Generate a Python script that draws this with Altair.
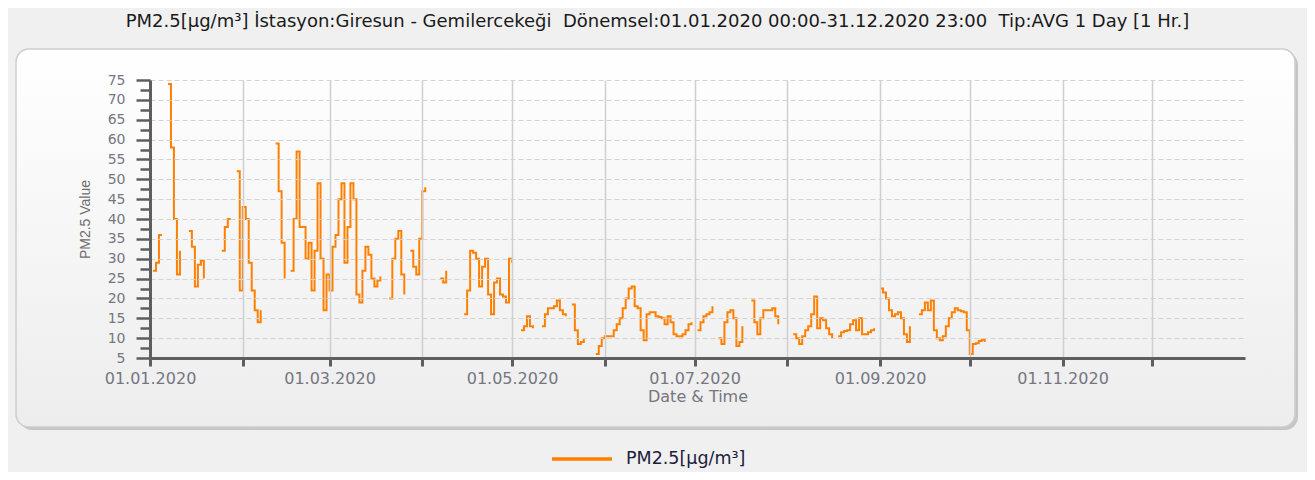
import altair as alt
import pandas as pd

N = None
# Daily PM2.5 averages (µg/m³), one list per month of 2020, None = no data
jan = [N, 27, 29, 36, 36, N, 74, 58, 40, 26, 32, N, N, 37, 33, 23, 28.5, 29.5, 25, N,
       N, N, N, N, 32, 38, 40, 40, N, 52, 22]
feb = [43, 40, 29, 22, 17, 14, 17, N, N, N, N, 59, 47, 34, 25, N, 27, 40, 57, 38,
       38, 30, 34, 22, 32, 49, 30, 17, 26]
mar = [22, 33, 36, 45, 49, 29, 38, 49, 45, 21, 19, 27, 33, 31, 25, 23, 24.5, 25.5, N, N,
       20, 30, 35, 37, 26, 21, N, 32, 28, 26, 35]
apr = [47, 48, N, N, N, N, 25, 24, 27, N, N, N, N, N, 16, 22, 32, 31.5, 30, 23,
       28, 30, 21, 16, 24, 25, 21, 20.5, 19, 30]
may = [29, N, N, 12, 13, 15.5, 13, 12.5, N, N, 13, 16, 17.5, 17.5, 18, 19.5, 17, 16, 15.5, N,
       18.5, 12, 8.5, 9, 10, N, N, N, 6, 8, 10]
jun = [10.5, 10.5, 10.5, 12, 13.5, 15, 17.5, 20, 22.5, 23, 18, 17.5, 12, 9.5, 16, 16.5, 16.5, 15.5, 15.3, 15,
       13.5, 15.5, 14, 11, 10.5, 10.5, 11, 12, 13.5, 14]
jul = [N, 12, 14, 15.5, 16, 16.5, 18, N, 10, 8.5, 14, 16.5, 17, 15, 8, 9, 13, N, N, 19.5,
       14, 11, 15, 17, 17, 17, 17.5, 15.5, 13.5, N, N]
aug = [N, N, 11, 10, 8.5, 10.5, 12, 13, 16, 20.5, 12.5, 15, 14.5, 12.5, 11, 10, N, 10.5, 11.5, 11.8,
       12, 13.5, 14.5, 12, 15, 11, 11, 11.5, 12, 12.5, N]
sep = [22.5, 21.5, 20, 17, 15.5, 16, 16.5, 15, 11, 9, 13, N, N, 16, 17, 19, 17, 19.5, 12, 10,
       9.5, 10.5, 13, 15, 16.5, 17.5, 17, 16.8, 16.5, 12]
oct_ = [6, 8.5, 8.7, 9.3, 9.6, 9]

y_ticks = [5, 10, 15, 20, 25, 30, 35, 40, 45, 50, 55, 60, 65, 70, 75]
y_minor = [7.5, 12.5, 17.5, 22.5, 27.5, 32.5, 37.5, 42.5, 47.5, 52.5, 57.5, 62.5, 67.5, 72.5]
month_starts = ["2020-01-01", "2020-02-01", "2020-03-01", "2020-04-01", "2020-05-01", "2020-06-01",
                "2020-07-01", "2020-08-01", "2020-09-01", "2020-10-01", "2020-11-01", "2020-12-01"]
x_domain = ["2020-01-01", "2021-01-01"]

series_name = "PM2.5[µg/m³]"
title_text = ("PM2.5[µg/m³] İstasyon:Giresun - Gemilercekeği \u00a0Dönemsel:01.01.2020 00:00-31.12.2020 23:00 "
              "\u00a0Tip:AVG 1 Day [1 Hr.]")

values = jan + feb + mar + apr + may + jun + jul + aug + sep + oct_
dates = pd.date_range("2020-01-01", periods=len(values), freq="D")
rows = []
seg = 0
prev_missing = False
for dt, v in zip(dates, values):
    if v is None:
        if not prev_missing:
            seg += 1
        prev_missing = True
        continue
    prev_missing = False
    rows.append({"date": dt.strftime("%Y-%m-%d"), "value": v, "seg": seg, "series": series_name})
df = pd.DataFrame(rows)


def ms(s):
    return int(pd.Timestamp(s, tz="UTC").value // 10**6)


tick_ms = [ms(s) for s in month_starts]
dom_ms = [ms(s) for s in x_domain]

AX = "#5e5e5e"
LAB = "#767680"

x_enc = alt.X(
    "date:T",
    scale=alt.Scale(type="utc", domain=dom_ms, nice=False),
    axis=alt.Axis(
        values=tick_ms,
        labelExpr="utcmonth(datum.value) % 2 == 0 ? utcFormat(datum.value, '%d.%m.%Y') : ''",
        labelOverlap=False, labelFlush=False,
        labelFont="DejaVu Sans", labelFontSize=16, labelColor=LAB, labelPadding=4,
        domainColor=AX, domainWidth=3, tickColor=AX, tickWidth=3, tickSize=8,
        grid=True, gridColor="#cfcfcf", gridWidth=1.5,
        title="Date & Time", titleFont="DejaVu Sans", titleFontSize=16, titleColor=LAB,
        titleFontWeight="normal", titlePadding=2, zindex=1,
    ),
)

y_enc = alt.Y(
    "value:Q",
    scale=alt.Scale(domain=[5, 75], nice=False, zero=False),
    axis=alt.Axis(
        values=y_ticks, orient="left",
        labelFont="DejaVu Sans", labelFontSize=14, labelColor=LAB, labelPadding=11,
        domainColor=AX, domainWidth=3, tickColor=AX, tickWidth=2.5, tickSize=14,
        grid=True, gridColor="#d3d3d3", gridDash=[5, 3], gridWidth=1,
        title="PM2.5 Value", titleFont="Liberation Sans", titleFontSize=14, titleColor="#6e6e6e",
        titleFontWeight="normal", titlePadding=15, zindex=1,
    ),
)

panel_src = alt.Data(values=[{"k": 1}])
gradient = alt.LinearGradient(
    gradient="linear", x1=0, y1=0, x2=0, y2=1,
    stops=[alt.GradientStop(color="#ffffff", offset=0), alt.GradientStop(color="#ededed", offset=1)],
)
shadow = alt.Chart(panel_src).mark_rect(cornerRadius=13, fill="#c6c6c6").encode(
    x=alt.value(-131), x2=alt.value(1148), y=alt.value(-28), y2=alt.value(350)
)
panel = alt.Chart(panel_src).mark_rect(
    cornerRadius=13, fill=gradient, stroke="#cdcdcd", strokeWidth=1.5
).encode(x=alt.value(-134), x2=alt.value(1145), y=alt.value(-31), y2=alt.value(347))

line = alt.Chart(df).mark_line(interpolate="step-after", strokeWidth=2).encode(
    x=x_enc,
    y=y_enc,
    detail="seg:N",
    color=alt.Color(
        "series:N",
        scale=alt.Scale(range=["#ff8000"]),
        legend=alt.Legend(
            orient="none", legendX=400, legendY=347, title=None, padding=0,
            symbolType="stroke", symbolSize=3600, symbolStrokeWidth=3.5,
            labelFont="DejaVu Sans", labelFontSize=17.5, labelColor="#1c1c3c", labelOffset=12,
        ),
    ),
)

minor = alt.Chart(df).mark_point(opacity=0).encode(
    y=alt.Y(
        "value:Q",
        axis=alt.Axis(values=y_minor, orient="left", labels=False, domain=False, grid=False,
                      tickColor=AX, tickWidth=2.5, tickSize=10, title=None, zindex=1),
    )
)

chart = (
    alt.layer(shadow, panel, line, minor)
    .resolve_axis(y="independent")
    .properties(
        width=1095, height=278,
        autosize=alt.AutoSizeParams(type="none"),
        padding={"left": 142, "top": 72, "right": 62, "bottom": 114},
        background="#f0f0f0",
        title=alt.TitleParams(
            text=title_text, anchor="middle", font="DejaVu Sans", fontSize=18,
            fontWeight="normal", color="#1a1a1a", dx=-40, offset=17,
        ),
    )
    .configure_view(stroke=None)
)

chart.save("out.html", embed_options={"renderer": "svg", "actions": False})
